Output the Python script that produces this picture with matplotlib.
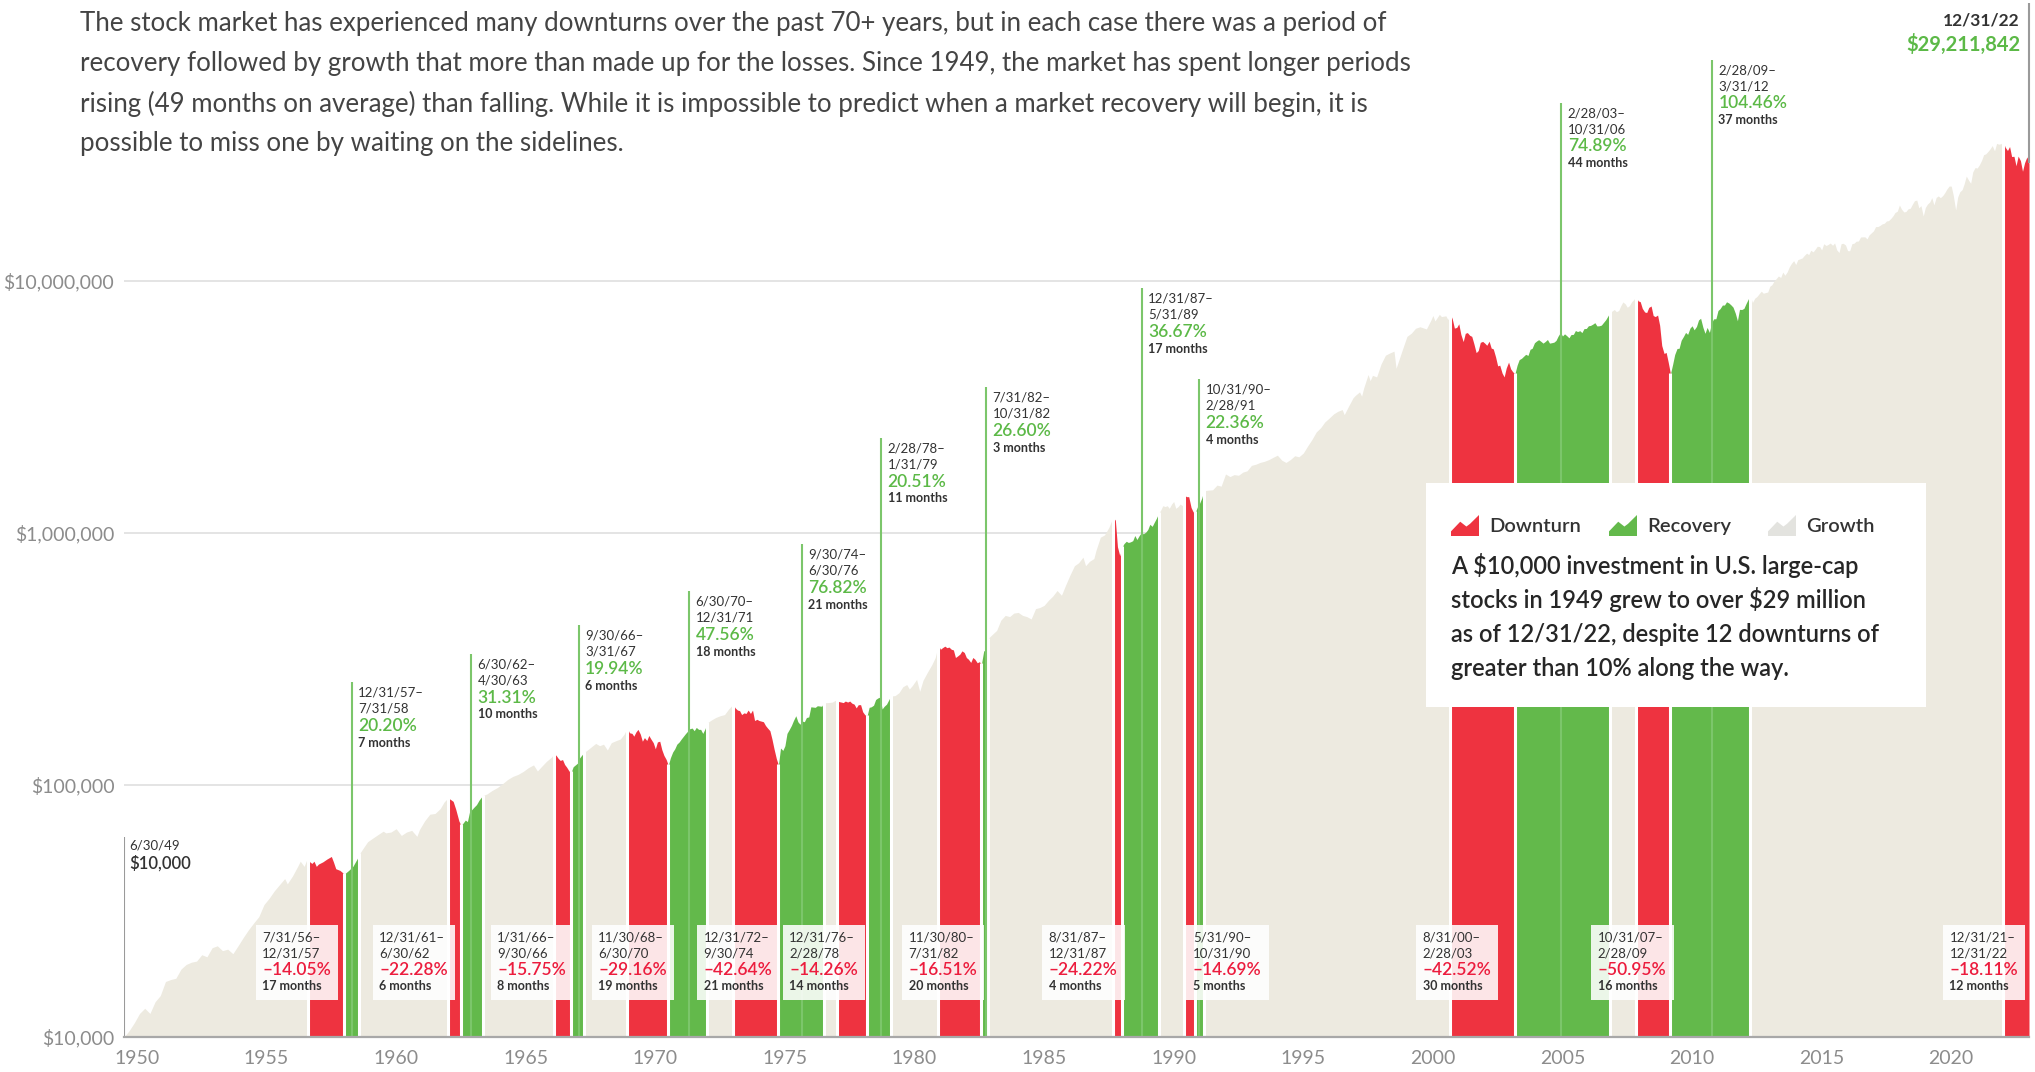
import matplotlib
matplotlib.use("Agg")
import matplotlib.pyplot as plt
import matplotlib.transforms as mtransforms
from matplotlib.patches import Rectangle, Polygon
from matplotlib.ticker import FixedLocator, NullLocator
import numpy as np

# ---------------- DATA ----------------
# growth of $10,000 (values in $ thousands)
curve_years = [
    1949.50, 1949.70, 1949.90, 1950.10, 1950.30, 1950.50, 1950.70, 1950.90, 1951.10, 1951.30,
    1951.50, 1951.70, 1951.90, 1952.10, 1952.30, 1952.50, 1952.70, 1952.90, 1953.10, 1953.30,
    1953.50, 1953.70, 1953.90, 1954.10, 1954.30, 1954.50, 1954.70, 1954.90, 1955.10, 1955.30,
    1955.50, 1955.70, 1955.80, 1956.00, 1956.20, 1956.30, 1956.45, 1956.58,
    1956.67, 1956.75, 1956.83, 1956.92, 1957.00, 1957.17, 1957.33, 1957.50, 1957.58, 1957.67,
    1957.83, 1958.00, 1958.17, 1958.33, 1958.50, 1958.58,
    1958.75, 1958.90, 1959.10, 1959.30, 1959.50, 1959.60, 1959.80, 1960.00, 1960.20, 1960.40,
    1960.60, 1960.80, 1960.90, 1961.10, 1961.30, 1961.50, 1961.70, 1961.85, 1962.00,
    1962.10, 1962.20, 1962.30, 1962.42, 1962.50, 1962.58, 1962.67, 1962.75, 1962.83, 1963.00,
    1963.10, 1963.20, 1963.33,
    1963.50, 1963.70, 1963.90, 1964.10, 1964.30, 1964.50, 1964.70, 1964.90, 1965.10, 1965.30,
    1965.45, 1965.60, 1965.80, 1966.00, 1966.08,
    1966.17, 1966.25, 1966.33, 1966.42, 1966.50, 1966.58, 1966.67, 1966.75, 1966.83, 1967.00,
    1967.08, 1967.17, 1967.25,
    1967.40, 1967.55, 1967.70, 1967.85, 1968.00, 1968.15, 1968.30, 1968.50, 1968.65, 1968.80, 1968.92,
    1969.00, 1969.10, 1969.17, 1969.25, 1969.33, 1969.42, 1969.50, 1969.58, 1969.67, 1969.75,
    1969.83, 1969.92, 1970.00, 1970.08, 1970.17, 1970.25, 1970.33, 1970.42, 1970.50,
    1970.58, 1970.67, 1970.75, 1970.83, 1970.92, 1971.00, 1971.17, 1971.33, 1971.42, 1971.50,
    1971.58, 1971.67, 1971.75, 1971.83, 1971.92, 1972.00,
    1972.17, 1972.33, 1972.50, 1972.67, 1972.83, 1973.00,
    1973.08, 1973.17, 1973.25, 1973.33, 1973.42, 1973.50, 1973.58, 1973.67, 1973.75, 1973.83,
    1973.92, 1974.00, 1974.17, 1974.25, 1974.33, 1974.42, 1974.50, 1974.58, 1974.67, 1974.75,
    1974.83, 1974.92, 1975.00, 1975.08, 1975.17, 1975.25, 1975.33, 1975.42, 1975.50, 1975.58,
    1975.67, 1975.75, 1975.83, 1975.92, 1976.00, 1976.17, 1976.25, 1976.42, 1976.50,
    1976.67, 1976.83, 1977.00,
    1977.08, 1977.17, 1977.25, 1977.33, 1977.42, 1977.50, 1977.58, 1977.67, 1977.75, 1977.83,
    1977.92, 1978.00, 1978.08, 1978.17,
    1978.25, 1978.33, 1978.42, 1978.50, 1978.58, 1978.67, 1978.75, 1978.83, 1978.92, 1979.08,
    1979.25, 1979.40, 1979.55, 1979.70, 1979.80, 1979.92, 1980.08, 1980.20, 1980.33, 1980.50,
    1980.67, 1980.80, 1980.92,
    1981.00, 1981.08, 1981.17, 1981.25, 1981.33, 1981.42, 1981.50, 1981.58, 1981.67, 1981.75,
    1981.83, 1981.92, 1982.00, 1982.08, 1982.17, 1982.25, 1982.33, 1982.42, 1982.50, 1982.58,
    1982.67, 1982.75, 1982.83,
    1983.00, 1983.17, 1983.33, 1983.50, 1983.67, 1983.83, 1984.00, 1984.17, 1984.33, 1984.50,
    1984.67, 1984.83, 1985.00, 1985.17, 1985.33, 1985.50, 1985.67, 1985.83, 1986.00, 1986.17,
    1986.33, 1986.50, 1986.60, 1986.75, 1986.92, 1987.00, 1987.17, 1987.33, 1987.50, 1987.58, 1987.67,
    1987.75, 1987.83, 1987.92, 1988.00,
    1988.08, 1988.17, 1988.25, 1988.33, 1988.42, 1988.50, 1988.58, 1988.67, 1988.75, 1988.83,
    1988.92, 1989.00, 1989.08, 1989.17, 1989.25, 1989.33, 1989.42,
    1989.50, 1989.58, 1989.67, 1989.75, 1989.83, 1989.92, 1990.00, 1990.08, 1990.17, 1990.25,
    1990.33, 1990.42,
    1990.50, 1990.58, 1990.67, 1990.75, 1990.83, 1990.92, 1991.00, 1991.08, 1991.17,
    1991.33, 1991.50, 1991.67, 1991.83, 1992.00, 1992.17, 1992.33, 1992.50, 1992.67, 1992.83,
    1993.00, 1993.17, 1993.33, 1993.50, 1993.67, 1993.83, 1994.00, 1994.17, 1994.33, 1994.50,
    1994.67, 1994.83, 1995.00, 1995.17, 1995.33, 1995.50, 1995.67, 1995.83, 1996.00, 1996.17,
    1996.33, 1996.50, 1996.58, 1996.75, 1996.92, 1997.00, 1997.17, 1997.25, 1997.33, 1997.50,
    1997.58, 1997.67, 1997.83, 1998.00, 1998.17, 1998.33, 1998.50, 1998.58, 1998.67, 1998.83,
    1999.00, 1999.17, 1999.33, 1999.50, 1999.58, 1999.75, 1999.92, 2000.00, 2000.08, 2000.25,
    2000.33, 2000.50, 2000.58, 2000.67,
    2000.75, 2000.83, 2000.92, 2001.00, 2001.08, 2001.17, 2001.25, 2001.33, 2001.42, 2001.50,
    2001.58, 2001.67, 2001.75, 2001.83, 2001.92, 2002.00, 2002.08, 2002.17, 2002.25, 2002.33,
    2002.42, 2002.50, 2002.58, 2002.67, 2002.75, 2002.83, 2002.92, 2003.00, 2003.08, 2003.17,
    2003.25, 2003.33, 2003.42, 2003.50, 2003.58, 2003.67, 2003.75, 2003.83, 2003.92, 2004.00,
    2004.08, 2004.17, 2004.25, 2004.33, 2004.42, 2004.50, 2004.58, 2004.67, 2004.75, 2004.83,
    2004.92, 2005.00, 2005.08, 2005.17, 2005.25, 2005.33, 2005.42, 2005.50, 2005.58, 2005.67,
    2005.75, 2005.83, 2005.92, 2006.00, 2006.08, 2006.17, 2006.25, 2006.33, 2006.42, 2006.50,
    2006.58, 2006.67, 2006.75, 2006.83,
    2006.92, 2007.00, 2007.08, 2007.17, 2007.25, 2007.33, 2007.42, 2007.50, 2007.58, 2007.67,
    2007.75, 2007.83,
    2007.92, 2008.00, 2008.08, 2008.17, 2008.25, 2008.33, 2008.42, 2008.50, 2008.58, 2008.67,
    2008.75, 2008.83, 2008.92, 2009.00, 2009.08, 2009.17,
    2009.25, 2009.33, 2009.42, 2009.50, 2009.58, 2009.67, 2009.75, 2009.83, 2009.92, 2010.00,
    2010.08, 2010.17, 2010.25, 2010.33, 2010.42, 2010.50, 2010.58, 2010.67, 2010.75, 2010.83,
    2010.92, 2011.00, 2011.08, 2011.17, 2011.25, 2011.33, 2011.42, 2011.50, 2011.58, 2011.67,
    2011.75, 2011.83, 2011.92, 2012.00, 2012.08, 2012.17, 2012.25,
    2012.33, 2012.42, 2012.50, 2012.58, 2012.67, 2012.75, 2012.83, 2012.92, 2013.00, 2013.08,
    2013.17, 2013.25, 2013.33, 2013.42, 2013.50, 2013.58, 2013.67, 2013.75, 2013.83, 2013.92,
    2014.00, 2014.08, 2014.17, 2014.25, 2014.33, 2014.42, 2014.50, 2014.58, 2014.67, 2014.75,
    2014.83, 2014.92, 2015.00, 2015.08, 2015.17, 2015.25, 2015.33, 2015.42, 2015.50, 2015.58,
    2015.67, 2015.75, 2015.83, 2015.92, 2016.00, 2016.08, 2016.17, 2016.25, 2016.33, 2016.42,
    2016.50, 2016.58, 2016.67, 2016.75, 2016.83, 2016.92, 2017.00, 2017.08, 2017.17, 2017.25,
    2017.33, 2017.42, 2017.50, 2017.58, 2017.67, 2017.75, 2017.83, 2017.92, 2018.00, 2018.08,
    2018.17, 2018.25, 2018.33, 2018.42, 2018.50, 2018.58, 2018.67, 2018.75, 2018.83, 2018.92,
    2019.00, 2019.08, 2019.17, 2019.25, 2019.33, 2019.42, 2019.50, 2019.58, 2019.67, 2019.75,
    2019.83, 2019.92, 2020.00, 2020.08, 2020.17, 2020.25, 2020.33, 2020.42, 2020.50, 2020.58,
    2020.67, 2020.75, 2020.83, 2020.92, 2021.00, 2021.08, 2021.17, 2021.25, 2021.33, 2021.42,
    2021.50, 2021.58, 2021.67, 2021.75, 2021.83, 2021.92, 2022.00,
    2022.08, 2022.17, 2022.25, 2022.33, 2022.42, 2022.50, 2022.58, 2022.67, 2022.75, 2022.83,
    2022.92, 2023.00,
]
curve_values_k = [
    10.0, 10.6, 11.4, 12.4, 13.0, 12.4, 13.8, 14.6, 16.6, 16.9,
    17.1, 18.6, 19.4, 19.8, 20.0, 21.2, 20.8, 22.6, 23.0, 22.0,
    22.3, 21.4, 23.0, 24.8, 26.6, 28.3, 30.0, 33.5, 35.5, 38.0,
    40.2, 42.5, 40.5, 43.5, 47.5, 49.8, 47.5, 51.5,
    49.5, 48.8, 49.8, 47.5, 48.5, 49.5, 50.8, 52.0, 49.5, 46.5,
    45.8, 44.3, 45.8, 47.5, 51.0, 53.2,
    56.5, 59.5, 61.5, 63.5, 65.5, 64.5, 65.0, 67.0, 63.0, 65.0,
    66.0, 62.5, 66.5, 72.0, 76.5, 77.0, 80.5, 85.5, 88.8,
    87.5, 86.0, 80.0, 72.0, 69.0, 70.5, 72.5, 71.5, 78.0, 81.5,
    83.5, 87.0, 90.6,
    92.0, 95.0, 97.5, 101.0, 105.0, 108.0, 110.0, 113.0, 117.0, 120.0,
    113.5, 118.0, 124.0, 129.0, 133.0,
    131.0, 127.5, 125.0, 126.0, 120.5, 117.5, 113.5, 112.0, 118.0, 122.0,
    128.0, 131.5, 134.4,
    138.0, 142.0, 146.0, 143.0, 145.0, 137.5, 147.0, 150.0, 152.0, 159.0, 168.6,
    161.0, 160.0, 156.0, 162.0, 166.0, 159.0, 149.0, 154.0, 150.0, 157.0,
    152.0, 147.0, 139.0, 148.0, 149.0, 138.0, 131.0, 126.0, 119.4,
    128.0, 135.0, 139.0, 145.0, 148.0, 152.0, 160.0, 167.0, 168.0, 164.0,
    169.0, 166.0, 166.0, 160.0, 167.0, 176.2,
    181.0, 185.0, 188.0, 190.0, 200.0, 208.7,
    202.0, 198.0, 197.0, 190.0, 193.0, 192.0, 198.0, 192.0, 198.0, 180.0,
    182.0, 180.0, 178.0, 172.0, 168.0, 164.0, 152.0, 139.0, 127.0, 119.7,
    140.0, 137.0, 143.0, 160.0, 166.0, 172.0, 180.0, 188.0, 178.0, 174.0,
    179.0, 178.0, 185.0, 186.0, 204.0, 203.0, 206.0, 205.0, 211.7,
    212.0, 213.0, 218.0,
    214.0, 213.0, 212.0, 215.0, 213.0, 215.0, 211.0, 209.0, 202.0, 208.0,
    208.0, 195.0, 190.0, 187.0,
    203.0, 204.0, 207.0, 218.0, 221.0, 223.0, 200.0, 205.0, 209.0, 225.0,
    226.0, 232.0, 245.0, 250.0, 240.0, 248.0, 262.0, 235.0, 260.0, 280.0,
    300.0, 320.0, 360.0,
    345.0, 350.0, 355.0, 350.0, 352.0, 345.0, 343.0, 320.0, 325.0, 330.0,
    340.0, 335.0, 320.0, 315.0, 306.0, 320.0, 315.0, 305.0, 308.0, 300.0,
    340.0, 342.0, 380.0,
    395.0, 410.0, 450.0, 470.0, 465.0, 480.0, 483.0, 470.0, 465.0, 455.0,
    500.0, 505.0, 515.0, 540.0, 560.0, 590.0, 565.0, 620.0, 680.0, 740.0,
    760.0, 800.0, 740.0, 770.0, 790.0, 850.0, 960.0, 980.0, 1050.0, 1100.0, 1153.0,
    1120.0, 880.0, 810.0, 874.0,
    905.0, 925.0, 915.0, 920.0, 930.0, 975.0, 940.0, 975.0, 1000.0, 990.0,
    1005.0, 1030.0, 1080.0, 1060.0, 1100.0, 1140.0, 1195.0,
    1230.0, 1280.0, 1270.0, 1280.0, 1250.0, 1300.0, 1330.0, 1250.0, 1270.0, 1300.0,
    1280.0, 1410.0,
    1390.0, 1390.0, 1260.0, 1210.0, 1203.0, 1270.0, 1310.0, 1370.0, 1472.0,
    1475.0, 1480.0, 1545.0, 1530.0, 1710.0, 1670.0, 1700.0, 1690.0, 1740.0, 1760.0,
    1850.0, 1870.0, 1900.0, 1920.0, 1950.0, 1990.0, 2030.0, 1940.0, 1900.0, 1950.0,
    2020.0, 2000.0, 2070.0, 2210.0, 2340.0, 2510.0, 2610.0, 2750.0, 2850.0, 2960.0,
    3030.0, 3080.0, 2940.0, 3180.0, 3430.0, 3500.0, 3620.0, 3480.0, 3750.0, 4240.0,
    4010.0, 4210.0, 4150.0, 4670.0, 5060.0, 5160.0, 5250.0, 4490.0, 4780.0, 5350.0,
    6010.0, 6190.0, 6470.0, 6560.0, 6520.0, 6430.0, 6960.0, 7270.0, 6920.0, 7350.0,
    7200.0, 7250.0, 7000.0, 7430.0,
    7040.0, 6480.0, 6520.0, 6740.0, 6120.0, 5730.0, 6180.0, 6220.0, 6070.0, 6010.0,
    5630.0, 5180.0, 5280.0, 5690.0, 5740.0, 5650.0, 5540.0, 5750.0, 5400.0, 5360.0,
    4980.0, 4590.0, 4620.0, 4300.0, 4150.0, 4500.0, 4750.0, 4470.0, 4350.0, 4270.0,
    4620.0, 4860.0, 4920.0, 5010.0, 5100.0, 5050.0, 5340.0, 5390.0, 5670.0, 5760.0,
    5830.0, 5740.0, 5650.0, 5730.0, 5840.0, 5650.0, 5670.0, 5700.0, 5790.0, 6020.0,
    6230.0, 6030.0, 6150.0, 6040.0, 5930.0, 6110.0, 6120.0, 6340.0, 6280.0, 6330.0,
    6220.0, 6450.0, 6460.0, 6620.0, 6640.0, 6720.0, 6810.0, 6610.0, 6620.0, 6660.0,
    6820.0, 7000.0, 7230.0, 7470.0,
    7580.0, 7680.0, 7530.0, 7610.0, 7950.0, 8230.0, 8090.0, 7840.0, 7950.0, 8250.0,
    8400.0, 8670.0,
    8310.0, 8250.0, 7760.0, 7510.0, 7470.0, 7830.0, 7930.0, 7270.0, 7200.0, 7300.0,
    6650.0, 5530.0, 5140.0, 5190.0, 4750.0, 4250.0,
    4650.0, 5090.0, 5380.0, 5390.0, 5800.0, 6010.0, 6230.0, 6120.0, 6480.0, 6620.0,
    6380.0, 6580.0, 6980.0, 7090.0, 6520.0, 6180.0, 6520.0, 6230.0, 6790.0, 7050.0,
    7060.0, 7610.0, 7740.0, 8000.0, 8000.0, 8240.0, 8150.0, 8010.0, 7850.0, 7420.0,
    6930.0, 7690.0, 7680.0, 7760.0, 8100.0, 8460.0, 8690.0,
    8190.0, 8520.0, 8640.0, 8850.0, 9080.0, 8910.0, 8960.0, 9010.0, 9500.0, 9630.0,
    9990.0, 10190.0, 10430.0, 10290.0, 10810.0, 10500.0, 10830.0, 11330.0, 11690.0, 12000.0,
    11580.0, 12110.0, 12210.0, 12300.0, 12590.0, 12850.0, 12680.0, 13190.0, 13000.0, 13320.0,
    13680.0, 13650.0, 13240.0, 14000.0, 13780.0, 13910.0, 14090.0, 13810.0, 14100.0, 13250.0,
    12920.0, 14010.0, 14060.0, 13840.0, 13150.0, 13130.0, 14020.0, 14070.0, 14330.0, 14360.0,
    14890.0, 14910.0, 14910.0, 14640.0, 15180.0, 15480.0, 15750.0, 16370.0, 16390.0, 16550.0,
    16780.0, 16890.0, 17240.0, 17290.0, 17650.0, 18060.0, 18620.0, 18860.0, 19940.0, 19210.0,
    18720.0, 18790.0, 19250.0, 19370.0, 20090.0, 20740.0, 20860.0, 19430.0, 19830.0, 18040.0,
    19490.0, 20110.0, 20500.0, 21330.0, 19970.0, 21380.0, 21670.0, 21330.0, 21730.0, 22320.0,
    23070.0, 23720.0, 23700.0, 21750.0, 19060.0, 21480.0, 22500.0, 22950.0, 24240.0, 25980.0,
    25000.0, 24330.0, 26990.0, 28080.0, 27960.0, 28730.0, 29990.0, 31590.0, 31810.0, 32560.0,
    33330.0, 34320.0, 32720.0, 35010.0, 34770.0, 34900.0, 35670.0,
    33830.0, 32810.0, 34030.0, 31060.0, 31120.0, 28550.0, 31180.0, 29910.0, 27150.0, 29350.0,
    30970.0, 29211.842,
]

down_dates = [("7/31/56", "12/31/57"), ("12/31/61", "6/30/62"), ("1/31/66", "9/30/66"),
              ("11/30/68", "6/30/70"), ("12/31/72", "9/30/74"), ("12/31/76", "2/28/78"),
              ("11/30/80", "7/31/82"), ("8/31/87", "12/31/87"), ("5/31/90", "10/31/90"),
              ("8/31/00", "2/28/03"), ("10/31/07", "2/28/09"), ("12/31/21", "12/31/22")]
down_pct = [-14.05, -22.28, -15.75, -29.16, -42.64, -14.26, -16.51, -24.22, -14.69, -42.52, -50.95, -18.11]
down_months = [17, 6, 8, 19, 21, 14, 20, 4, 5, 30, 16, 12]

rec_dates = [("12/31/57", "7/31/58"), ("6/30/62", "4/30/63"), ("9/30/66", "3/31/67"),
             ("6/30/70", "12/31/71"), ("9/30/74", "6/30/76"), ("2/28/78", "1/31/79"),
             ("7/31/82", "10/31/82"), ("12/31/87", "5/31/89"), ("10/31/90", "2/28/91"),
             ("2/28/03", "10/31/06"), ("2/28/09", "3/31/12")]
rec_pct = [20.20, 31.31, 19.94, 47.56, 76.82, 20.51, 26.60, 36.67, 22.36, 74.89, 104.46]
rec_months = [7, 10, 6, 18, 21, 11, 3, 17, 4, 44, 37]

start_label = ("6/30/49", "$10,000")
end_label = ("12/31/22", "$29,211,842")
y_ticks = [1e4, 1e5, 1e6, 1e7]
y_tick_labels = ["$10,000", "$100,000", "$1,000,000", "$10,000,000"]
x_ticks = list(range(1950, 2021, 5))

intro_lines = [
    "The stock market has experienced many downturns over the past 70+ years, but in each case there was a period of",
    "recovery followed by growth that more than made up for the losses. Since 1949, the market has spent longer periods",
    "rising (49 months on average) than falling. While it is impossible to predict when a market recovery will begin, it is",
    "possible to miss one by waiting on the sidelines.",
]
legend_labels = ["Downturn", "Recovery", "Growth"]
legend_text_lines = ["A $10,000 investment in U.S. large-cap",
                     "stocks in 1949 grew to over $29 million",
                     "as of 12/31/22, despite 12 downturns of",
                     "greater than 10% along the way."]

# ---------------- LAYOUT / STYLE ----------------
RED = "#ee3340"
GREEN = "#63b94b"
BEIGE = "#edeae0"
RED_TXT = "#ec1c3d"
GREEN_TXT = "#5cb947"
DARK = "#333333"
GRAY_TXT = "#8c8c8c"
FONT = "Lato"

rec_note_x = [1958.29, 1962.90, 1967.05, 1971.31, 1975.66, 1978.72, 1982.77, 1988.78, 1990.99, 2004.96, 2010.77]
rec_note_top = [2.55e5, 3.31e5, 4.30e5, 5.86e5, 8.99e5, 2.38e6, 3.78e6, 9.31e6, 4.06e6, 5.08e7, 7.52e7]
down_box_x = [1954.58, 1959.09, 1963.65, 1967.55, 1971.61, 1974.91, 1979.52, 1984.93, 1990.49, 1999.35, 2006.11, 2019.68]

W, H = 2035, 1072
fig = plt.figure(figsize=(W / 100, H / 100), dpi=100)
ax = fig.add_axes([124 / W, 35 / H, (2029 - 124) / W, (H - 35) / H])


def fx(px):
    return px / W


def fy(py):
    return 1 - py / H


def to_year(s):
    m, d, y = s.split("/")
    y = int(y)
    y += 1900 if y > 40 else 2000
    return y + int(m) / 12.0


xs = np.array(curve_years)
vs = np.array(curve_values_k) * 1000.0

ax.set_yscale("log")
ax.set_xlim(1949.5, 2023.0)
ax.set_ylim(1e4, 1.297e8)

for v in y_ticks[1:]:
    ax.axhline(v, color="#e2e2e2", lw=1.3, zorder=0)

bounds = []
for (a, b) in down_dates:
    bounds.append((to_year(a), to_year(b), RED))
for (a, b) in rec_dates:
    bounds.append((to_year(a), to_year(b), GREEN))
bounds.sort()
segs = []
cur = xs[0]
for a, b, c in bounds:
    if a > cur + 1e-6:
        segs.append((cur, a, BEIGE))
    segs.append((a, b, c))
    cur = b
if cur < xs[-1] - 1e-6:
    segs.append((cur, xs[-1], BEIGE))

for a, b, c in segs:
    inner = (xs > a + 0.005) & (xs < b - 0.005)
    sx = np.concatenate([[a], xs[inner], [b]])
    sv = np.concatenate([[np.interp(a, xs, vs)], vs[inner], [np.interp(b, xs, vs)]])
    ax.fill_between(sx, 1e4, sv, color=c, lw=0, zorder=1)

edges = sorted(set([round(s[0], 4) for s in segs[1:]]))
for e in edges:
    ax.vlines(e, 1e4, np.interp(e, xs, vs) * 1.01, color="white", lw=2.2, zorder=2)

# recovery notes
for i in range(len(rec_dates)):
    x = rec_note_x[i]
    ax.vlines(x, 1e4, rec_note_top[i], color="#7cc66b", lw=1.5, zorder=3)
    a, b = rec_dates[i]
    lines = [(a + "–", 9.5, "normal", DARK, -7.5),
             (b, 9.5, "normal", DARK, -19.0),
             ("%.2f%%" % rec_pct[i], 12.5, "semibold", GREEN_TXT, -31.5),
             ("%d months" % rec_months[i], 9.0, "bold", DARK, -43.5)]
    for txt, fs, fw, col, dy in lines:
        ax.annotate(txt, (x, rec_note_top[i]), xytext=(4.5, dy), textcoords="offset points",
                    fontsize=fs, fontweight=fw, color=col, family=FONT,
                    ha="left", va="center", zorder=6)

# downturn notes
btrans = mtransforms.blended_transform_factory(ax.transData, fig.transFigure)
down_texts = []
for i in range(len(down_dates)):
    x = down_box_x[i]
    a, b = down_dates[i]
    lines = [(a + "–", 9.5, "normal", DARK, 937),
             (b, 9.5, "normal", DARK, 954),
             ("–%.2f%%" % abs(down_pct[i]), 12.5, "semibold", RED_TXT, 970),
             ("%d months" % down_months[i], 9.0, "bold", DARK, 986.5)]
    group = []
    for txt, fs, fw, col, py in lines:
        t = ax.annotate(txt, (x, fy(py)), xycoords=btrans, xytext=(4.7, 0),
                        textcoords="offset points", fontsize=fs, fontweight=fw,
                        color=col, family=FONT, ha="left", va="center", zorder=6)
        group.append(t)
    down_texts.append(group)

# start / end notes
ax.vlines(xs[0], 1e4, 6.22e4, color="#9a9a9a", lw=1.5, zorder=3)
ax.annotate(start_label[0], (xs[0], fy(845)), xycoords=btrans, xytext=(4, 0),
            textcoords="offset points", fontsize=9.5, color=DARK, family=FONT,
            ha="left", va="center", zorder=6)
ax.annotate(start_label[1], (xs[0], fy(863)), xycoords=btrans, xytext=(4, 0),
            textcoords="offset points", fontsize=12, fontweight="semibold", color=DARK,
            family=FONT, ha="left", va="center", zorder=6)
ax.vlines(xs[-1], vs[-1], 1.26e8, color="#9a9a9a", lw=1.5, zorder=3, clip_on=False)
fig.text(fx(2020), fy(21), end_label[0], fontsize=12.5, fontweight="bold", color=DARK,
         family=FONT, ha="right", va="center")
fig.text(fx(2020), fy(44), end_label[1], fontsize=14.5, fontweight="bold", color=GREEN_TXT,
         family=FONT, ha="right", va="center")

for s in ["top", "right", "left"]:
    ax.spines[s].set_visible(False)
ax.spines["bottom"].set_color("#a8a8a8")
ax.spines["bottom"].set_linewidth(1.6)
ax.spines["bottom"].set_zorder(5)
ax.yaxis.set_major_locator(FixedLocator(y_ticks))
ax.yaxis.set_minor_locator(NullLocator())
ax.set_yticklabels(y_tick_labels)
ax.set_xticks(x_ticks)
ax.set_xticklabels([str(v) for v in x_ticks])
ax.tick_params(axis="both", length=0, labelsize=14, labelcolor=GRAY_TXT)
ax.tick_params(axis="y", pad=7)
ax.tick_params(axis="x", pad=9)
for lab in ax.get_xticklabels() + ax.get_yticklabels():
    lab.set_family(FONT)
ax.patch.set_alpha(0)

for i, line in enumerate(intro_lines):
    fig.text(fx(80), fy(24 + i * 40), line, fontsize=18.6, fontweight="normal",
             color="#444444", family=FONT, ha="left", va="center")

fig.patches.append(Rectangle((fx(1426), fy(707)), fx(1926) - fx(1426), fy(483) - fy(707),
                             transform=fig.transFigure, facecolor="white", edgecolor="none",
                             zorder=8))
icon_shape = [(0, 0), (0, 0.22), (0.33, 0.68), (0.55, 0.45), (0.68, 0.58), (1, 1), (1, 0)]
icon_cols = [RED, GREEN, "#e3e3df"]
icon_x = [1451, 1609, 1768]
for i, lab in enumerate(legend_labels):
    x0 = icon_x[i]
    pts = [(fx(x0 + px * 28), fy(536 - py * 21)) for px, py in icon_shape]
    fig.patches.append(Polygon(pts, closed=True, transform=fig.transFigure,
                               facecolor=icon_cols[i], edgecolor="none", zorder=9))
    fig.text(fx(x0 + 38), fy(526), lab, fontsize=14.5, fontweight="semibold", color=DARK,
             family=FONT, ha="left", va="center", zorder=10)
for i, line in enumerate(legend_text_lines):
    fig.text(fx(1451), fy(565 + i * 34.5), line, fontsize=17, fontweight="semibold",
             color="#262626", family=FONT, ha="left", va="center", zorder=10)

# size the downturn boxes from the text extents
fig.canvas.draw()
r = fig.canvas.get_renderer()
inv = fig.transFigure.inverted()
for i, group in enumerate(down_texts):
    right = max(t.get_window_extent(r).x1 for t in group)
    left_disp = btrans.transform((down_box_x[i], 0))[0]
    x0f = inv.transform((left_disp, 0))[0]
    x1f = inv.transform((right + 7, 0))[0]
    ax.add_patch(Rectangle((x0f, fy(1000)), x1f - x0f, fy(925) - fy(1000),
                           transform=fig.transFigure, facecolor="white", alpha=0.88,
                           edgecolor="none", zorder=4, clip_on=False))

fig.savefig("out.png", dpi=100)
